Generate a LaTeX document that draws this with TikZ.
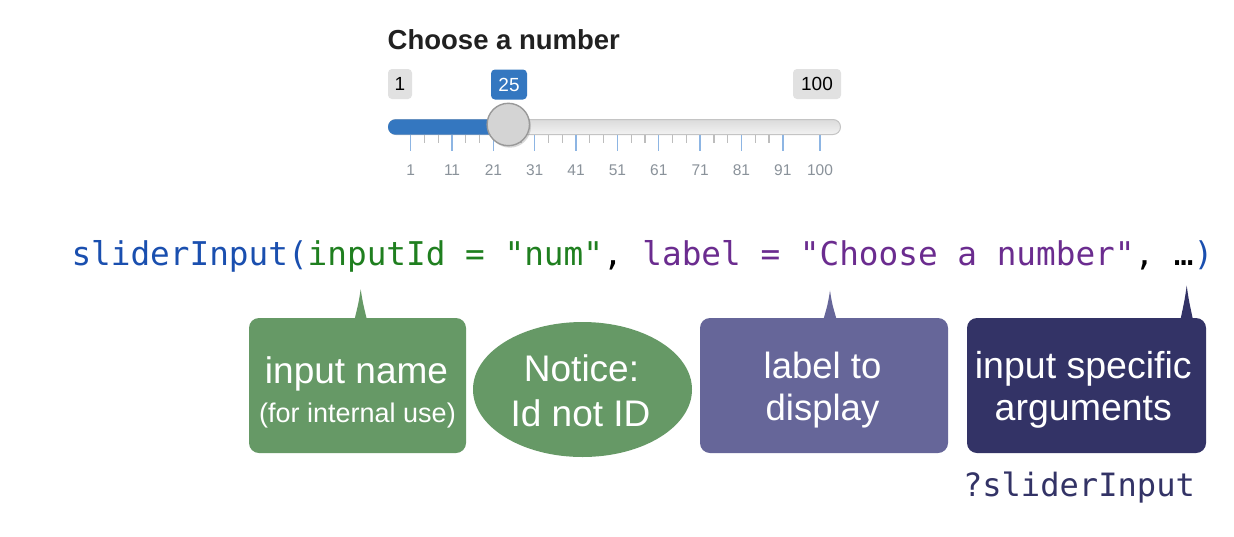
\documentclass[tikz,border=0pt]{standalone}
\usepackage{fontspec}
\setmainfont{Liberation Sans}
\setmonofont{DejaVu Sans Mono}
\usetikzlibrary{shapes.geometric,shadows,calc}

\definecolor{sliderblue}{HTML}{3477C0}
\definecolor{badgegray}{HTML}{E1E1E1}
\definecolor{trackedge}{HTML}{C4C4C4}
\definecolor{majortick}{HTML}{8DB5E3}
\definecolor{minortick}{HTML}{BDBDBD}
\definecolor{ticktext}{HTML}{8A929A}
\definecolor{codeblue}{HTML}{1A4FAF}
\definecolor{codegreen}{HTML}{1F7F1F}
\definecolor{codepurple}{HTML}{6B2C8F}
\definecolor{calloutgreen}{HTML}{669966}
\definecolor{calloutpurple}{HTML}{666699}
\definecolor{calloutnavy}{HTML}{333366}

\tikzset{
  badge/.style={rounded corners=4pt, minimum height=30pt, inner sep=0pt,
    font=\fontsize{19}{22}\selectfont},
  ticklabel/.style={anchor=center, text=ticktext, inner sep=0pt,
    font=\fontsize{15.5}{18}\selectfont},
  code/.style={anchor=base west, inner sep=0pt, outer sep=0pt,
    font=\ttfamily\fontsize{32.7}{38}\selectfont},
  callout/.style={rounded corners=10pt, minimum height=135pt, inner sep=0pt},
  bigtext/.style={anchor=base, text=white, inner sep=0pt,
    font=\fontsize{37}{42}\selectfont},
  smalltext/.style={anchor=base, text=white, inner sep=0pt,
    font=\fontsize{27}{32}\selectfont},
}

\begin{document}
\begin{tikzpicture}[x=1pt,y=-1pt]
\fill[white] (0,0) rectangle (1234,536);
\useasboundingbox (0,0) rectangle (1234,536);

% ---- slider widget ----
\node[anchor=base west, inner sep=0pt, text=black!87,
      font=\bfseries\fontsize{27.5}{32}\selectfont] (heading) at (387.5,49.3) {Choose a number};

\node[badge, fill=badgegray, minimum width=24pt] (minval) at (400,84) {1};
\node[badge, fill=sliderblue, text=white, minimum width=36pt] (curval) at (509,84.5) {25};
\node[badge, fill=badgegray, minimum width=48pt] (maxval) at (817,84) {100};

% track
\draw[trackedge, line width=1pt, top color=black!14, bottom color=black!5, rounded corners=7.5pt]
  (388.5,119.5) rectangle (840.5,134.5);
\fill[sliderblue, rounded corners=7.5pt] (388,119.3) rectangle (512,134.7);

% ticks and their labels
\foreach \v in {1,11,...,81} {
  \foreach \k in {1,2} {
    \pgfmathsetmacro{\tx}{410.7+(\v-1+\k*10/3)*4.1347}
    \draw[minortick, line width=1.2pt] (\tx,135) -- (\tx,143);
  }
}
\foreach \v in {1,11,...,91,100} {
  \pgfmathsetmacro{\tx}{410.7+(\v-1)*4.1347}
  \draw[majortick, line width=1.4pt] (\tx,135) -- (\tx,151);
  \node[ticklabel] (tick\v) at (\tx,170.5) {\v};
}

% handle
\node[circle, minimum size=42.4pt, inner sep=0pt, fill=black!17, draw=black!40, line width=1.4pt,
      drop shadow={shadow xshift=1.5pt, shadow yshift=-2pt, opacity=0.3}] (thumb) at (508.3,124.5) {};

% ---- code line ----
\node[code, text=codeblue] (fn) at (71.5,265) {sliderInput(};
\node[code, text=codegreen] (idarg) at (fn.base east) {inputId = "num"};
\node[code, text=black] (sepA) at (idarg.base east) {,};
\node[code, text=codepurple] (labarg) at (sepA.base east) {\ label = "Choose a number"};
\node[code, text=black] (sepB) at (labarg.base east) {, …};
\node[code, text=codeblue] (close) at (sepB.base east) {)};

% ---- callouts ----
\node[callout, fill=calloutgreen, minimum width=217pt] (nameBox) at (357.5,385.5) {};
\node[ellipse, fill=calloutgreen, minimum width=219pt, minimum height=135pt, inner sep=0pt] (notice) at (582.5,389.5) {};
\node[callout, fill=calloutpurple, minimum width=248pt] (labelBox) at (824,385.5) {};
\node[callout, fill=calloutnavy, minimum width=239pt] (argsBox) at (1086.5,385.5) {};

% pointer tips under the code
\coordinate (tipName) at (360.7,289.3);
\coordinate (tipLabel) at (830,290.5);
\coordinate (tipArgs) at (1186.7,285.7);

\fill[calloutgreen] ($(tipName |- nameBox.north)+(-6.5,3)$) .. controls ($(tipName)+(-2,13)$) .. (tipName)
  .. controls ($(tipName)+(2,13)$) .. ($(tipName |- nameBox.north)+(6.5,3)$) -- cycle;
\fill[calloutpurple] ($(tipLabel |- labelBox.north)+(-7,3)$) .. controls ($(tipLabel)+(-2,13)$) .. (tipLabel)
  .. controls ($(tipLabel)+(2,13)$) .. ($(tipLabel |- labelBox.north)+(7,3)$) -- cycle;
\fill[calloutnavy] ($(tipArgs |- argsBox.north)+(-6.5,3)$) .. controls ($(tipArgs)+(-2,14)$) .. (tipArgs)
  .. controls ($(tipArgs)+(2,14)$) .. ($(tipArgs |- argsBox.north)+(6.5,3)$) -- cycle;

% callout texts
\node[bigtext] (nameA) at (356.5,383.5) {input name};
\node[smalltext] (nameB) at (357.5,422.5) {(for internal use)};
\node[bigtext] (noticeA) at (581.5,381) {Notice:};
\node[bigtext] (noticeB) at (580.5,426) {Id not ID};
\node[bigtext, font=\fontsize{36.5}{42}\selectfont] (labelA) at (822.5,378.5) {label to};
\node[bigtext, font=\fontsize{36.5}{42}\selectfont] (labelB) at (822.5,420) {display};
\node[bigtext, font=\fontsize{37.5}{42}\selectfont] (argsA) at (1083.3,378) {input specific};
\node[bigtext, font=\fontsize{37.5}{42}\selectfont] (argsB) at (1083.3,420) {arguments};

\node[code, text=calloutnavy, font=\ttfamily\fontsize{32.1}{38}\selectfont] (help) at (963,496) {?sliderInput};
\end{tikzpicture}
\end{document}
